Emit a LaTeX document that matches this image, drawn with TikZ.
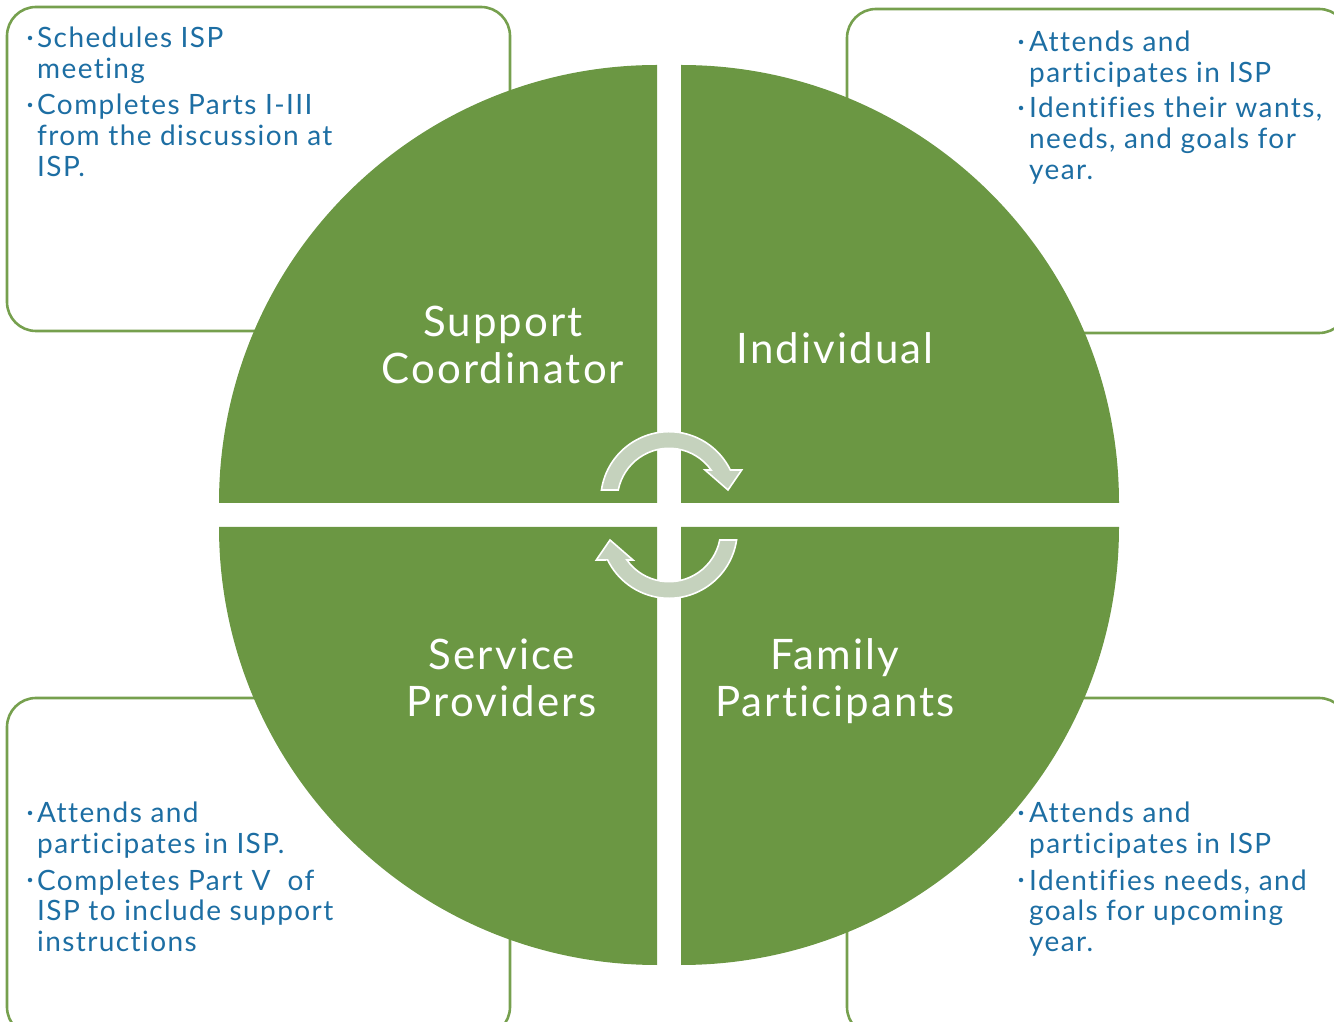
\documentclass[tikz,border=0pt]{standalone}
\usepackage{fontspec}
\setmainfont{Lato}[LetterSpace=5, Ligatures={NoCommon}]
\definecolor{leaf}{HTML}{6B9743}
\definecolor{leafline}{HTML}{76A04E}
\definecolor{ink}{HTML}{1D6EA3}
\definecolor{sage}{HTML}{C5D2BD}
% stacked lines; the box baseline is the first line's baseline
\newcommand\stackL[1]{\vtop{\baselineskip=30.8pt\lineskiplimit=-100pt\halign{##\hfil\cr#1\crcr}}}
\newcommand\stackC[1]{\vtop{\baselineskip=46.5pt\lineskiplimit=-100pt\halign{\hfil##\hfil\cr#1\crcr}}}
\tikzset{
  notebox/.style={draw=leafline, line width=2.6pt, rounded corners=29pt},
  quarter/.style={fill=leaf},
  cyclearrow/.style={fill=sage, draw=white, line width=1.6pt, line join=miter},
  bulletdot/.style={circle, fill=ink, inner sep=0pt, minimum size=4.5pt},
  notetext/.style={anchor=base west, inner sep=0pt, text=ink, font=\fontsize{28}{30.8}\selectfont},
  roletext/.style={anchor=base, inner sep=0pt, text=white, font=\fontsize{42}{46.5}\selectfont},
}
\begin{document}
\begin{tikzpicture}[x=1pt, y=1pt]
\useasboundingbox (0,0) rectangle (1334,1021);

% rounded note frames behind the wheel
\draw[notebox] (7,690) rectangle (510,1014);
\draw[notebox] (847,688) rectangle (1348,1012);
\draw[notebox] (7,-15) rectangle (510,323);
\draw[notebox] (847,-15) rectangle (1348,323);

% four quarters of the wheel
\fill[quarter] (657,518) -- (219,518) arc[start angle=180, end angle=90, radius=438] -- cycle;
\fill[quarter] (681,518) -- (681,956) arc[start angle=90, end angle=0, radius=438] -- cycle;
\fill[quarter] (657,494) -- (219,494) arc[start angle=180, end angle=270, radius=438] -- cycle;
\fill[quarter] (681,494) -- (1119,494) arc[start angle=0, end angle=-90, radius=438] -- cycle;

% circular arrows in the middle (the lower one is the upper one turned half a turn)
\path[cyclearrow] (601.43,530.98) arc[start angle=171.6, end angle=26, radius=68.3]
  -- (741.7,551) -- (728,531) -- (705,551) -- (711.09,551.02)
  arc[start angle=35.5, end angle=168.8, radius=51.7] -- cycle;
\path[cyclearrow, rotate around={180:(669,506)}] (601.43,530.98) arc[start angle=171.6, end angle=26, radius=68.3]
  -- (741.7,551) -- (728,531) -- (705,551) -- (711.09,551.02)
  arc[start angle=35.5, end angle=168.8, radius=51.7] -- cycle;

% role names
\node[roletext] (coord) at (503,684) {\stackC{Support\cr Coordinator}};
\node[roletext] (indiv) at (835,657) {Individual};
\node[roletext] (provid) at (502,351) {\stackC{Service\cr Providers}};
\node[roletext] (family) at (835,351) {\stackC{Family\cr Participants}};

% support coordinator duties
\node[bulletdot] (tlb1) at (30,983) {};
\node[notetext] (tlt1) at (37,973) {\stackL{Schedules ISP\cr meeting}};
\node[bulletdot] (tlb2) at (30,916) {};
\node[notetext] (tlt2) at (37,906) {\stackL{Completes Parts I-III\cr from the discussion at\cr ISP.}};

% individual duties
\node[bulletdot] (trb1) at (1021,979) {};
\node[notetext] (trt1) at (1029,969) {\stackL{Attends and\cr participates in ISP}};
\node[bulletdot] (trb2) at (1021,913) {};
\node[notetext] (trt2) at (1029,903) {\stackL{Identifies their wants,\cr needs, and goals for\cr year.}};

% service provider duties
\node[bulletdot] (blb1) at (30,208) {};
\node[notetext] (blt1) at (37,198) {\stackL{Attends and\cr participates in ISP.}};
\node[bulletdot] (blb2) at (30,141) {};
\node[notetext] (blt2) at (37,131) {\stackL{Completes Part V\ \ of\cr ISP to include support\cr instructions}};

% family participant duties
\node[bulletdot] (brb1) at (1021,208) {};
\node[notetext] (brt1) at (1029,198) {\stackL{Attends and\cr participates in ISP}};
\node[bulletdot] (brb2) at (1021,141) {};
\node[notetext] (brt2) at (1029,131) {\stackL{Identifies needs, and\cr goals for upcoming\cr year.}};
\end{tikzpicture}
\end{document}
